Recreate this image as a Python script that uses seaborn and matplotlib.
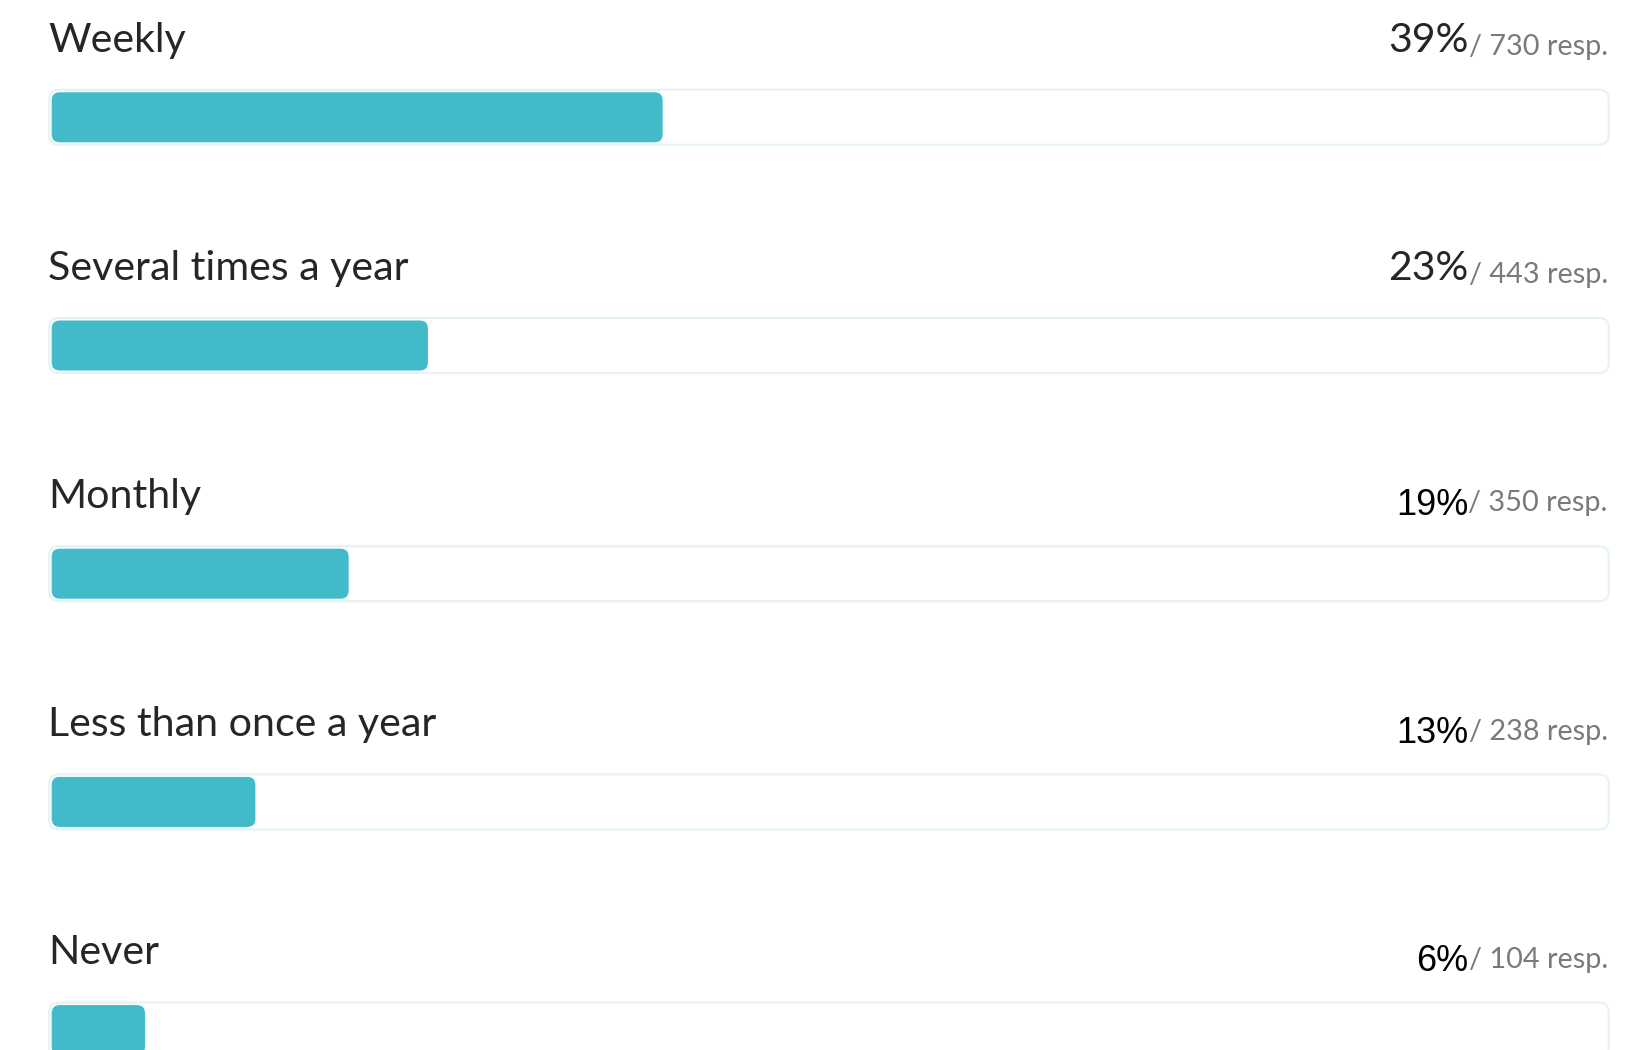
import pandas as pd
import matplotlib.pyplot as plt
import seaborn as sns
from matplotlib.patches import FancyBboxPatch

categories = ["Weekly", "Several times a year", "Monthly", "Less than once a year", "Never"]
percent = [39, 23, 19, 13, 6]
responses = [730, 443, 350, 238, 104]
# bar lengths as drawn in the picture (share of the track, %)
bar_share = [39.3, 24.2, 19.1, 13.1, 6.0]

df = pd.DataFrame({"category": categories, "share": bar_share, "track": [100] * len(categories)})

sns.set_theme(style="white")
plt.rcParams["font.family"] = ["Lato", "DejaVu Sans"]

W, H = 1651, 1050
fig = plt.figure(figsize=(W / 100, H / 100), dpi=100)
ax = fig.add_axes([0, 0, 1, 1])

px_x = 15.546   # pixels per percent
px_y = 228.2    # pixels per row
x0_px, y0_px = 51.7, 117.3
bar_h = 50 / px_y

sns.barplot(data=df, y="category", x="track", color="white", width=bar_h, ax=ax, zorder=1)
sns.barplot(data=df, y="category", x="share", color="#42BAC8", width=bar_h, ax=ax, zorder=2)

ax.set_xlim(-x0_px / px_x, (W - x0_px) / px_x)
ax.set_ylim((H - y0_px) / px_y, -y0_px / px_y)
aspect = px_x / px_y

# swap the square bars for rounded ones
n = len(categories)
for i, p in enumerate(list(ax.patches)):
    x, y = p.get_x(), p.get_y()
    w, h = p.get_width(), p.get_height()
    if i < n:
        style = f"round,pad={2.5 / px_x},rounding_size={10 / px_x}"
        fb = FancyBboxPatch((x, y), w, h, boxstyle=style, mutation_aspect=aspect,
                            facecolor="white", edgecolor="#E6F3F4", linewidth=1.6, zorder=1)
    else:
        style = f"round,pad=0,rounding_size={8 / px_x}"
        fb = FancyBboxPatch((x, y), w, h, boxstyle=style, mutation_aspect=aspect,
                            facecolor="#42BAC8", edgecolor="none", zorder=2)
    p.remove()
    ax.add_patch(fb)

ax.set_xlabel("")
ax.set_ylabel("")
ax.set_xticks([])
ax.set_yticks([])
for s in ax.spines.values():
    s.set_visible(False)

label_off = 65.6 / px_y
resp_off = 62.3 / px_y
pct_fonts = ["Lato", "Lato", "Liberation Sans", "Liberation Sans", "Liberation Sans"]
pct_sizes = [29.5, 29.5, 26, 26, 26]
pct_colors = ["#262626", "#262626", "#000000", "#000000", "#000000"]
pct_off = [65.6, 65.6, 58.7, 58.7, 58.7]

resp_texts = []
for i, cat in enumerate(categories):
    ax.text(-3.8 / px_x, i - label_off, cat, ha="left", va="baseline",
            fontsize=29.6, color="#262626")
    t = ax.text(100.1, i - resp_off, f"/ {responses[i]} resp.", ha="right", va="baseline",
                fontsize=20.8, color="#7A7A7A")
    resp_texts.append(t)

fig.canvas.draw()
renderer = fig.canvas.get_renderer()
for i, t in enumerate(resp_texts):
    bb = t.get_window_extent(renderer)
    xl = ax.transData.inverted().transform((bb.x0, 0))[0]
    ax.text(xl, i - pct_off[i] / px_y, f"{percent[i]}%", ha="right", va="baseline",
            fontsize=pct_sizes[i], color=pct_colors[i], family=[pct_fonts[i], "DejaVu Sans"])

fig.savefig("out.png", dpi=100)
